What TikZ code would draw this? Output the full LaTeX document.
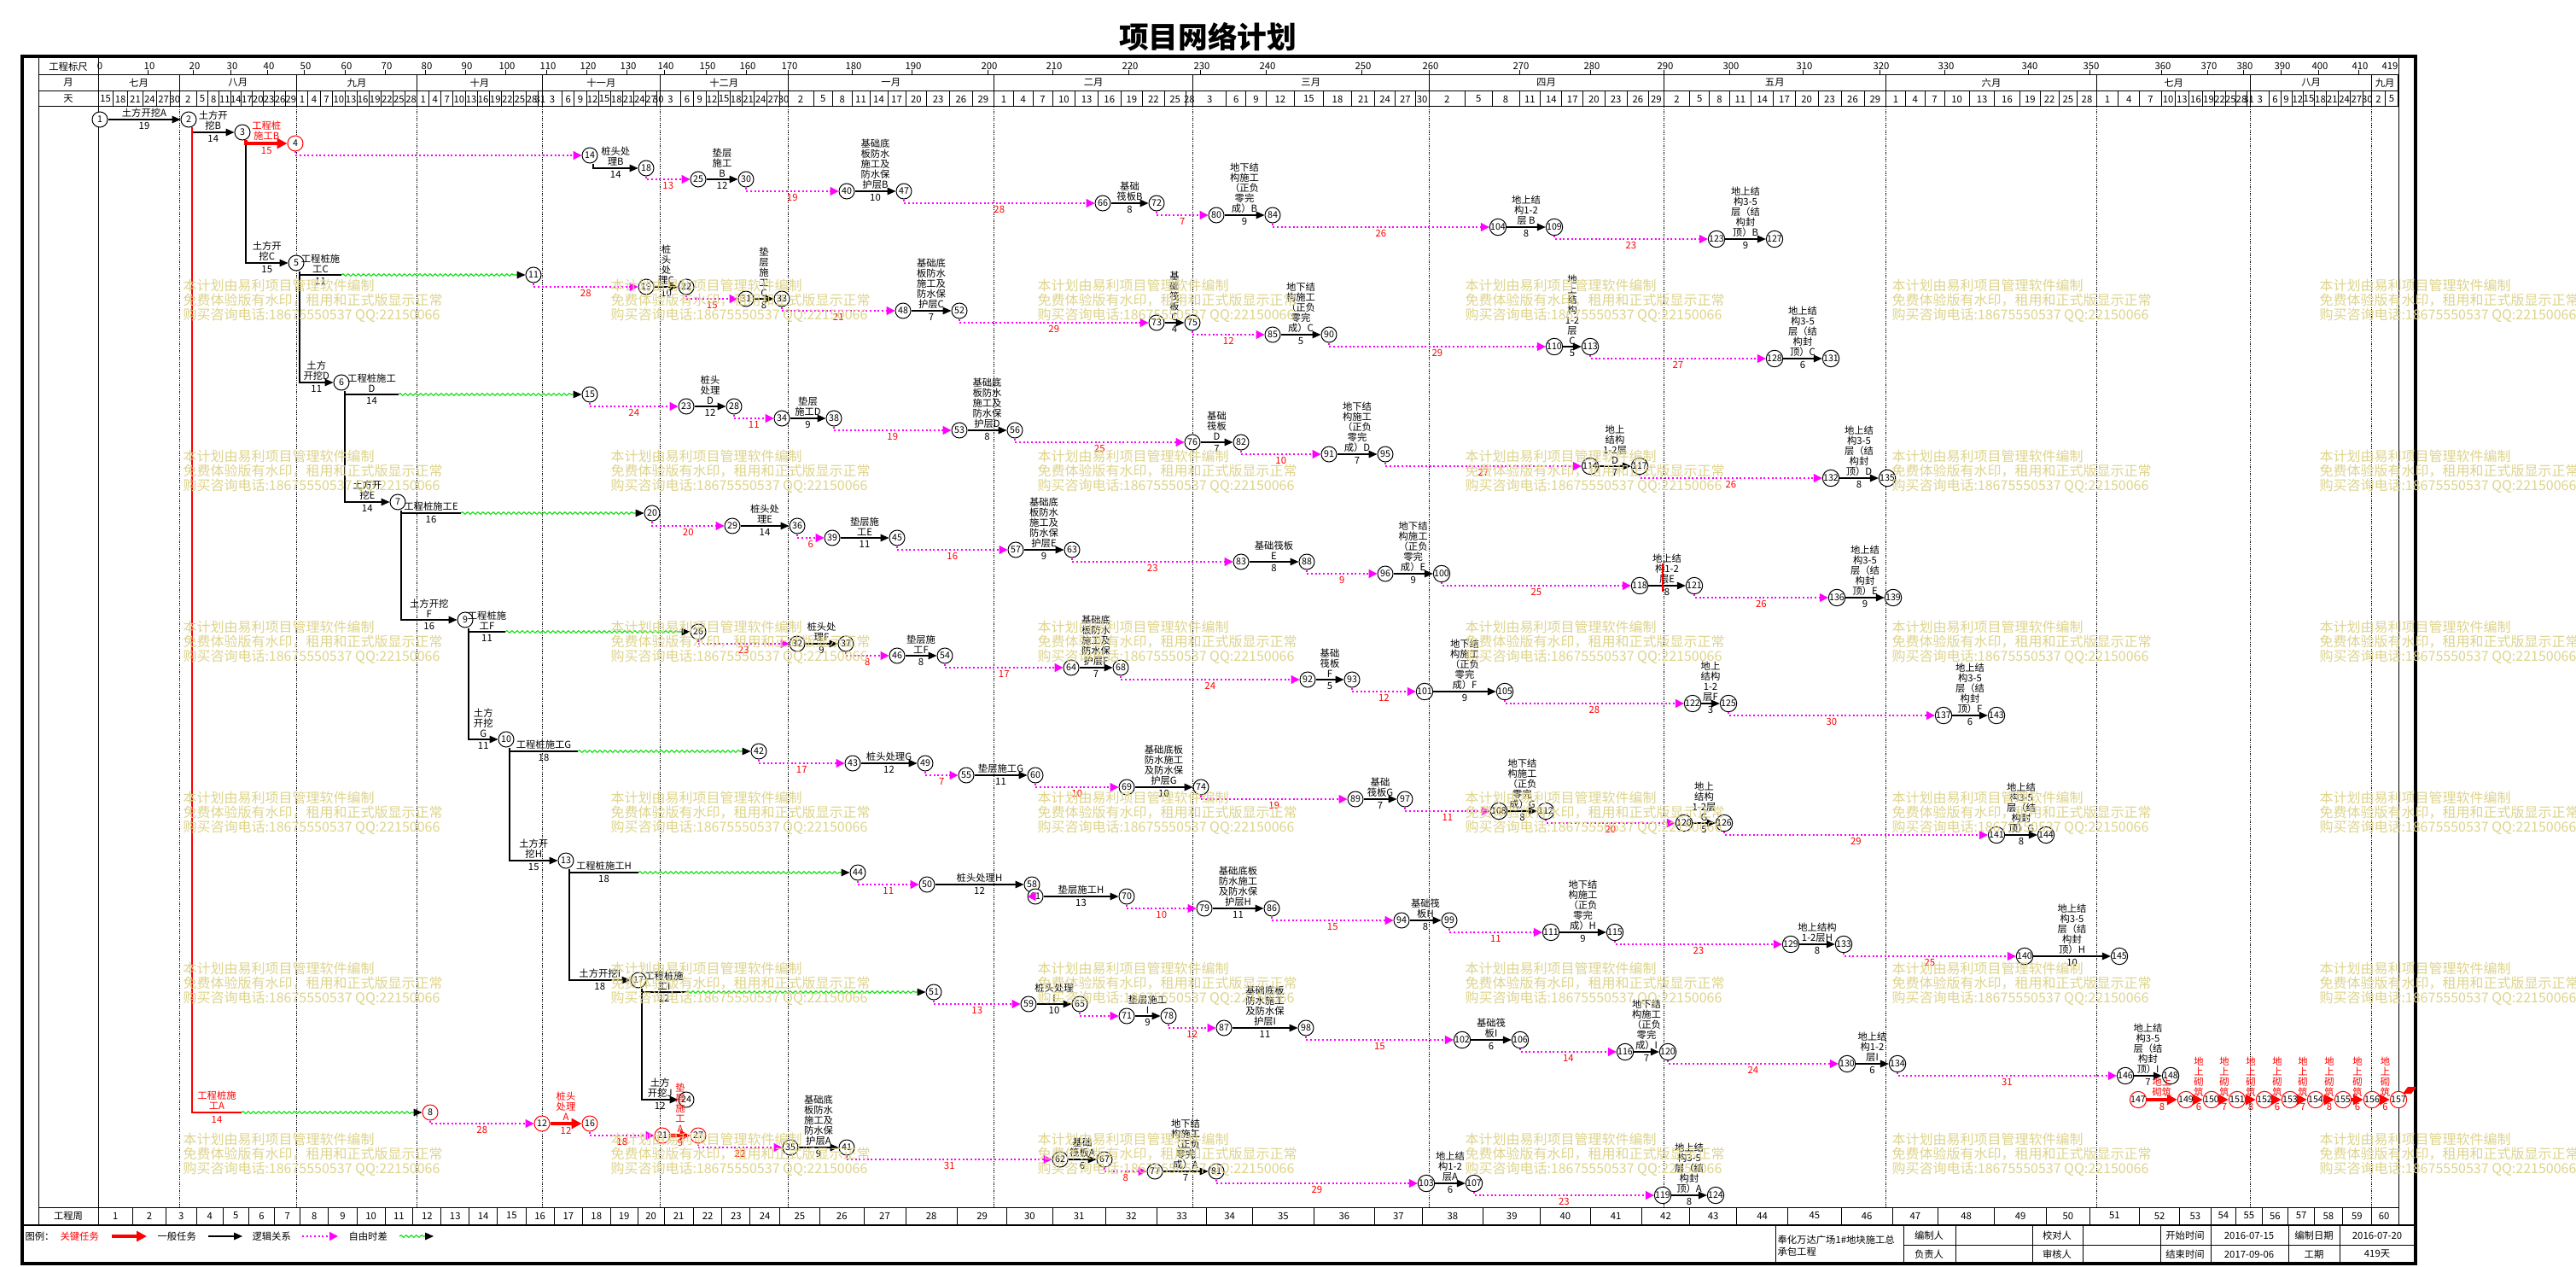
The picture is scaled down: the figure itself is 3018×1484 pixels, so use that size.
\documentclass[tikz,border=0pt]{standalone}
\usepackage{fontspec}
\setmainfont{Noto Sans CJK SC}
\usetikzlibrary{arrows.meta,decorations.pathmorphing}

\definecolor{lagpink}{RGB}{255,0,255}
\definecolor{floatgreen}{RGB}{0,225,0}
\definecolor{wmark}{RGB}{222,212,140}

% x position (px) of every 10th project day
\def\tk{{115,173,226,270,313,356,404,451,498,545,592,640,687,734,778,827,874,923,998,1068,1157,1233,1322,1406,1483,1595,1674,1780,1863,1949,2026,2112,2202,2278,2376,2448,2532,2586,2628,2672,2716,2763,2815}}
\pgfmathdeclarefunction{dx}{1}{%
  \begingroup
    \pgfmathtruncatemacro\dxi{min(#1/10,41)}%
    \pgfmathtruncatemacro\dxj{\dxi+1}%
    \pgfmathparse{\tk[\dxi]+(#1-10*\dxi)/10*(\tk[\dxj]-\tk[\dxi])}%
    \pgfmathsmuggle\pgfmathresult
  \endgroup}

\tikzset{every picture/.style={line width=0.75pt}}
\tikzset{
  nd/.style={circle,draw,fill=white,inner sep=0pt,minimum size=13.5pt,font=\fontsize{8}{8}\selectfont},
  ndk/.style={nd,draw=red},
  hd/.style={font=\fontsize{8.5}{9}\selectfont,inner sep=0pt},
  lbl/.style={font=\fontsize{8.5}{9}\selectfont,align=center,inner sep=1.5pt},
  dur/.style={font=\fontsize{8.5}{9}\selectfont,inner sep=2pt},
  fl/.style={dur,text=red},
  task/.style={draw=black,line width=0.8pt,-{Triangle[length=7.5pt,width=6.5pt]}},
  crit/.style={draw=red,line width=2.6pt,-{Triangle[length=9pt,width=9pt]}},
  critline/.style={draw=red,line width=2.2pt},
  lag/.style={draw=lagpink,line width=1pt,dash pattern=on 1.5pt off 2pt,-{Triangle[length=7.5pt,width=7.5pt,fill=lagpink]}},
  float/.style={draw=floatgreen,line width=0.8pt,decorate,decoration={snake,amplitude=1pt,segment length=4.5pt,post length=9pt},-{Triangle[length=7.5pt,width=6.5pt,color=black]}},
  wm/.style={text=wmark,font=\fontsize{12}{13}\selectfont,align=left,anchor=north west,inner sep=0pt},
}

\newcommand{\job}[4]{\draw[task] (#1) -- node[lbl,above]{#3} node[dur,below]{#4} (#2);}
\newcommand{\jobd}[4]{\draw[task] ([xshift=3pt]#1.south) |- node[lbl,above,pos=0.75]{#3} node[dur,below,pos=0.75]{#4} (#2);}
\newcommand{\keyjob}[4]{\draw[crit] (#1) -- node[lbl,above,text=red]{#3} node[dur,below,text=red]{#4} (#2);}
\newcommand{\keyjobd}[4]{\draw[crit] ([xshift=3pt]#1.south) |- node[lbl,above,pos=0.75,text=red]{#3} node[dur,below,pos=0.75,text=red]{#4} (#2);}
\newcommand{\lag}[3]{\draw[lag] (#1.south) |- node[fl,below,pos=0.75]{#3} (#2);}
\newcommand{\pile}[5]{\draw[task,-] ([xshift=3pt]#1.south) |- node[lbl,above,pos=0.75]{#4} node[dur,below,pos=0.75]{#5} (#3);\draw[float] (#3) -- (#2);}

\begin{document}
\begin{tikzpicture}[x=0.75pt,y=0.75pt,yscale=-1,xscale=1]
\useasboundingbox (0,0) rectangle (3018,1484);
\fill[white] (0,0) rectangle (3018,1484);

% Title
\node[font=\bfseries\fontsize{26}{26}\selectfont] (title) at (1415,43) {项目网络计划};

% Frame
\draw[line width=3pt] (26,66) rectangle (2830,1480);
\draw (45,66) -- (45,1435);
\draw (2810,66) -- (2810,1435);
\draw (115,66) -- (115,1435);
\foreach \y in {88,107,125,1414} \draw (45,\y) -- (2810,\y);
\draw[line width=1.5pt] (26,1435) -- (2830,1435);

% Header labels
\node[hd] at (80,78) {工程标尺};
\node[hd] at (80,97) {月};
\node[hd] at (80,116) {天};
\node[hd] at (80,1424) {工程周};

% scale row
\foreach \d in {0,10,...,410}{
  \pgfmathsetmacro{\xa}{dx(\d)}
  \draw (\xa,82) -- (\xa,88);
  \node[hd] at (\xa+2,77) {\d};
}
\node[hd] at (2800,77) {419};

% month row
\foreach \m/\a/\b in {七月/0/17,八月/17/48,九月/48/78,十月/78/109,十一月/109/139,十二月/139/170,一月/170/201,二月/201/229,三月/229/260,四月/260/290,五月/290/321,六月/321/351,七月/351/382,八月/382/413,九月/413/419}{
  \pgfmathsetmacro{\xa}{dx(\a)}
  \pgfmathsetmacro{\xb}{dx(\b)}
  \draw (\xb,88) -- (\xb,107);
  \node[hd] at ({(\xa+\xb)/2},97) {\m};
}
\foreach \a in {17,48,78,109,139,170,201,229,260,290,321,351,382,413}{
  \pgfmathsetmacro{\xa}{dx(\a)}
  \draw[line width=0.6pt,dash pattern=on 1pt off 1pt] (\xa,125) -- (\xa,1414);
}

% day row
\foreach \l/\a/\b in {15/0/3,18/3/6,21/6/9,24/9/12,27/12/15,30/15/17,
  2/17/21,5/21/24,8/24/27,11/27/30,14/30/33,17/33/36,20/36/39,23/39/42,26/42/45,29/45/48,
  1/48/51,4/51/54,7/54/57,10/57/60,13/60/63,16/63/66,19/66/69,22/69/72,25/72/75,28/75/78,
  1/78/81,4/81/84,7/84/87,10/87/90,13/90/93,16/93/96,19/96/99,22/99/102,25/102/105,28/105/108,31/108/109,
  3/109/114,6/114/117,9/117/120,12/120/123,15/123/126,18/126/129,21/129/132,24/132/135,27/135/138,30/138/139,
  3/139/144,6/144/147,9/147/150,12/150/153,15/153/156,18/156/159,21/159/162,24/162/165,27/165/168,30/168/170,
  2/170/174,5/174/177,8/177/180,11/180/183,14/183/186,17/186/189,20/189/192,23/192/195,26/195/198,29/198/201,
  1/201/204,4/204/207,7/207/210,10/210/213,13/213/216,16/216/219,19/219/222,22/222/225,25/225/228,28/228/229,
  3/229/234,6/234/237,9/237/240,12/240/243,15/243/246,18/246/249,21/249/252,24/252/255,27/255/258,30/258/260,
  2/260/264,5/264/267,8/267/270,11/270/273,14/273/276,17/276/279,20/279/282,23/282/285,26/285/288,29/288/290,
  2/290/294,5/294/297,8/297/300,11/300/303,14/303/306,17/306/309,20/309/312,23/312/315,26/315/318,29/318/321,
  1/321/324,4/324/327,7/327/330,10/330/333,13/333/336,16/336/339,19/339/342,22/342/345,25/345/348,28/348/351,
  1/351/354,4/354/357,7/357/360,10/360/363,13/363/366,16/366/369,19/369/372,22/372/375,25/375/378,28/378/381,31/381/382,
  3/382/387,6/387/390,9/390/393,12/393/396,15/396/399,18/399/402,21/402/405,24/405/408,27/408/411,30/411/413,
  2/413/416,5/416/419}{
  \pgfmathsetmacro{\xa}{dx(\a)}
  \pgfmathsetmacro{\xb}{dx(\b)}
  \draw (\xb,107) -- (\xb,125);
  \node[hd] at ({(\xa+\xb)/2},116) {\l};
}

% week row
\foreach \k in {1,...,59}{
  \pgfmathsetmacro{\xa}{dx(7*\k-7)}
  \pgfmathsetmacro{\xb}{dx(7*\k)}
  \draw (\xb,1414) -- (\xb,1435);
  \node[hd] at ({(\xa+\xb)/2},1424) {\k};
}
\node[hd] at (2793,1424) {60};

% ---------------- network nodes ----------------
% row B
\node[nd] (n1) at (117,140) {1};
\node[nd] (n2) at (221,140) {2};
\node[nd] (n3) at (284,155) {3};
\node[ndk] (n4) at (346,168) {4};
\node[nd] (n14) at (691,182) {14};
\node[nd] (n18) at (757,197) {18};
\node[nd] (n25) at (818,210) {25};
\node[nd] (n30) at (874,210) {30};
\node[nd] (n40) at (992,224) {40};
\node[nd] (n47) at (1059,224) {47};
\node[nd] (n66) at (1292,238) {66};
\node[nd] (n72) at (1355,238) {72};
\node[nd] (n80) at (1425,252) {80};
\node[nd] (n84) at (1491,252) {84};
\node[nd] (n104) at (1755,266) {104};
\node[nd] (n109) at (1821,266) {109};
\node[nd] (n123) at (2011,280) {123};
\node[nd] (n127) at (2079,280) {127};
% row C
\node[nd] (n5) at (347,308) {5};
\coordinate (k5) at (400,322);
\node[nd] (n11) at (625,322) {11};
\node[nd] (n19) at (757,336) {19};
\node[nd] (n22) at (804,336) {22};
\node[nd] (n31) at (874,350) {31};
\node[nd] (n33) at (916,350) {33};
\node[nd] (n48) at (1058,364) {48};
\node[nd] (n52) at (1124,364) {52};
\node[nd] (n73) at (1355,378) {73};
\node[nd] (n75) at (1397,378) {75};
\node[nd] (n85) at (1491,392) {85};
\node[nd] (n90) at (1557,392) {90};
\node[nd] (n110) at (1821,406) {110};
\node[nd] (n113) at (1863,406) {113};
\node[nd] (n128) at (2079,420) {128};
\node[nd] (n131) at (2145,420) {131};
% row D
\node[nd] (n6) at (400,448) {6};
\coordinate (k6) at (467,462);
\node[nd] (n15) at (691,462) {15};
\node[nd] (n23) at (804,476) {23};
\node[nd] (n28) at (860,476) {28};
\node[nd] (n34) at (916,490) {34};
\node[nd] (n38) at (977,490) {38};
\node[nd] (n53) at (1124,504) {53};
\node[nd] (n56) at (1189,504) {56};
\node[nd] (n76) at (1397,518) {76};
\node[nd] (n82) at (1454,518) {82};
\node[nd] (n91) at (1557,532) {91};
\node[nd] (n95) at (1623,532) {95};
\node[nd] (n114) at (1863,546) {114};
\node[nd] (n117) at (1921,546) {117};
\node[nd] (n132) at (2145,560) {132};
\node[nd] (n135) at (2211,560) {135};
% row E
\node[nd] (n7) at (466,588) {7};
\coordinate (k7) at (540,601);
\node[nd] (n20) at (764,601) {20};
\node[nd] (n29) at (858,616) {29};
\node[nd] (n36) at (934,616) {36};
\node[nd] (n39) at (975,630) {39};
\node[nd] (n45) at (1051,630) {45};
\node[nd] (n57) at (1190,644) {57};
\node[nd] (n63) at (1256,644) {63};
\node[nd] (n83) at (1454,658) {83};
\node[nd] (n88) at (1531,658) {88};
\node[nd] (n96) at (1623,672) {96};
\node[nd] (n100) at (1689,672) {100};
\node[nd] (n118) at (1921,686) {118};
\node[nd] (n121) at (1985,686) {121};
\node[nd] (n136) at (2152,700) {136};
\node[nd] (n139) at (2218,700) {139};
% row F
\node[nd] (n9) at (545,726) {9};
\coordinate (k9) at (592,740);
\node[nd] (n26) at (818,740) {26};
\node[nd] (n32) at (934,754) {32};
\node[nd] (n37) at (991,754) {37};
\node[nd] (n46) at (1051,768) {46};
\node[nd] (n54) at (1107,768) {54};
\node[nd] (n64) at (1255,782) {64};
\node[nd] (n68) at (1313,782) {68};
\node[nd] (n92) at (1532,796) {92};
\node[nd] (n93) at (1584,796) {93};
\node[nd] (n101) at (1669,810) {101};
\node[nd] (n105) at (1763,810) {105};
\node[nd] (n122) at (1983,824) {122};
\node[nd] (n125) at (2025,824) {125};
\node[nd] (n137) at (2277,838) {137};
\node[nd] (n143) at (2339,838) {143};
% row G
\node[nd] (n10) at (593,866) {10};
\coordinate (k10) at (677,880);
\node[nd] (n42) at (889,880) {42};
\node[nd] (n43) at (999,894) {43};
\node[nd] (n49) at (1084,894) {49};
\node[nd] (n55) at (1132,908) {55};
\node[nd] (n60) at (1213,908) {60};
\node[nd] (n69) at (1320,922) {69};
\node[nd] (n74) at (1407,922) {74};
\node[nd] (n89) at (1588,936) {89};
\node[nd] (n97) at (1646,936) {97};
\node[nd] (n108) at (1756,950) {108};
\node[nd] (n112) at (1811,950) {112};
\node[nd] (n120) at (1973,964) {120};
\node[nd] (n126) at (2020,964) {126};
\node[nd] (n141) at (2339,978) {141};
\node[nd] (n144) at (2397,978) {144};
% row H
\node[nd] (n13) at (663,1008) {13};
\coordinate (k13) at (748,1022);
\node[nd] (n44) at (1005,1022) {44};
\node[nd] (n50) at (1086,1036) {50};
\node[nd] (n58) at (1209,1036) {58};
\node[nd] (n61) at (1213,1050) {61};
\node[nd] (n70) at (1320,1050) {70};
\node[nd] (n79) at (1411,1064) {79};
\node[nd] (n86) at (1490,1064) {86};
\node[nd] (n94) at (1642,1078) {94};
\node[nd] (n99) at (1698,1078) {99};
\node[nd] (n111) at (1817,1092) {111};
\node[nd] (n115) at (1892,1092) {115};
\node[nd] (n129) at (2098,1106) {129};
\node[nd] (n133) at (2160,1106) {133};
\node[nd] (n140) at (2372,1120) {140};
\node[nd] (n145) at (2483,1120) {145};
% row I
\node[nd] (n17) at (748,1148) {17};
\coordinate (k17) at (804,1162);
\node[nd] (n51) at (1094,1162) {51};
\node[nd] (n59) at (1205,1176) {59};
\node[nd] (n65) at (1265,1176) {65};
\node[nd] (n71) at (1320,1190) {71};
\node[nd] (n78) at (1369,1190) {78};
\node[nd] (n87) at (1434,1204) {87};
\node[nd] (n98) at (1530,1204) {98};
\node[nd] (n102) at (1713,1218) {102};
\node[nd] (n106) at (1781,1218) {106};
\node[nd] (n116) at (1904,1232) {116};
\node[nd] (n120b) at (1954,1232) {120};
\node[nd] (n130) at (2164,1246) {130};
\node[nd] (n134) at (2223,1246) {134};
\node[nd] (n146) at (2490,1260) {146};
\node[nd] (n148) at (2543,1260) {148};
% row J
\node[nd] (n24) at (804,1288) {24};
% row A
\coordinate (k2) at (283,1303);
\node[ndk] (n8) at (504,1303) {8};
\node[ndk] (n12) at (635,1316) {12};
\node[ndk] (n16) at (691,1316) {16};
\node[ndk] (n21) at (776,1330) {21};
\node[ndk] (n27) at (818,1330) {27};
\node[nd] (n35) at (926,1344) {35};
\node[nd] (n41) at (992,1344) {41};
\node[nd] (n62) at (1242,1358) {62};
\node[nd] (n67) at (1294,1358) {67};
\node[nd] (n77) at (1353,1372) {77};
\node[nd] (n81) at (1425,1372) {81};
\node[nd] (n103) at (1671,1386) {103};
\node[nd] (n107) at (1727,1386) {107};
\node[nd] (n119) at (1948,1400) {119};
\node[nd] (n124) at (2010,1400) {124};
% final red chain
\node[ndk] (n147) at (2505,1288) {147};
\node[ndk] (n149) at (2561,1288) {149};
\node[ndk] (n150) at (2591,1288) {150};
\node[ndk] (n151) at (2621,1288) {151};
\node[ndk] (n152) at (2653,1288) {152};
\node[ndk] (n153) at (2683,1288) {153};
\node[ndk] (n154) at (2713,1288) {154};
\node[ndk] (n155) at (2745,1288) {155};
\node[ndk] (n156) at (2779,1288) {156};
\node[ndk] (n157) at (2810,1288) {157};

% ---------------- connections ----------------
% earthwork spine
\job{n1}{n2}{土方开挖A}{19}
\jobd{n2}{n3}{土方开\\挖B}{14}
\jobd{n3}{n5}{土方开\\挖C}{15}
\jobd{n5}{n6}{土方\\开挖D}{11}
\jobd{n6}{n7}{土方开\\挖E}{14}
\jobd{n7}{n9}{土方开挖\\F}{16}
\jobd{n9}{n10}{土方\\开挖\\G}{11}
\jobd{n10}{n13}{土方开\\挖H}{15}
\jobd{n13}{n17}{土方开挖I}{18}
\jobd{n17}{n24}{土方\\开挖J}{12}
% piles
\keyjobd{n3}{n4}{工程桩\\施工B}{15}
\pile{n5}{n11}{k5}{工程桩施\\工C}{11}
\pile{n6}{n15}{k6}{工程桩施工\\D}{14}
\pile{n7}{n20}{k7}{工程桩施工E}{16}
\pile{n9}{n26}{k9}{工程桩施\\工F}{11}
\pile{n10}{n42}{k10}{工程桩施工G}{18}
\pile{n13}{n44}{k13}{工程桩施工H}{18}
\pile{n17}{n51}{k17}{工程桩施\\工I}{12}
\draw[critline] ([xshift=3pt]n2.south) |- node[lbl,above,pos=0.75,text=red]{工程桩施\\工A} node[dur,below,pos=0.75,text=red]{14} (k2);
\draw[float] (k2) -- (n8);

% row B
\lag{n4}{n14}{}
\jobd{n14}{n18}{桩头处\\理B}{14}
\lag{n18}{n25}{13}
\job{n25}{n30}{垫层\\施工\\B}{12}
\lag{n30}{n40}{19}
\job{n40}{n47}{基础底\\板防水\\施工及\\防水保\\护层B}{10}
\lag{n47}{n66}{28}
\job{n66}{n72}{基础\\筏板B}{8}
\lag{n72}{n80}{7}
\job{n80}{n84}{地下结\\构施工\\（正负\\零完\\成）B}{9}
\lag{n84}{n104}{26}
\job{n104}{n109}{地上结\\构1-2\\层 B}{8}
\lag{n109}{n123}{23}
\job{n123}{n127}{地上结\\构3-5\\层（结\\构封\\顶）B}{9}
% row C
\lag{n11}{n19}{28}
\job{n19}{n22}{桩\\头\\处\\理C}{10}
\lag{n22}{n31}{15}
\job{n31}{n33}{垫\\层\\施\\工\\C}{8}
\lag{n33}{n48}{21}
\job{n48}{n52}{基础底\\板防水\\施工及\\防水保\\护层C}{7}
\lag{n52}{n73}{29}
\job{n73}{n75}{基\\础\\筏\\板\\C}{4}
\lag{n75}{n85}{12}
\job{n85}{n90}{地下结\\构施工\\（正负\\零完\\成）C}{5}
\lag{n90}{n110}{29}
\job{n110}{n113}{地\\上\\结\\构\\1-2\\层\\C}{5}
\lag{n113}{n128}{27}
\job{n128}{n131}{地上结\\构3-5\\层（结\\构封\\顶）C}{6}
% row D
\lag{n15}{n23}{24}
\job{n23}{n28}{桩头\\处理\\D}{12}
\lag{n28}{n34}{11}
\job{n34}{n38}{垫层\\施工D}{9}
\lag{n38}{n53}{19}
\job{n53}{n56}{基础底\\板防水\\施工及\\防水保\\护层D}{8}
\lag{n56}{n76}{25}
\job{n76}{n82}{基础\\筏板\\D}{7}
\lag{n82}{n91}{10}
\job{n91}{n95}{地下结\\构施工\\（正负\\零完\\成）D}{7}
\lag{n95}{n114}{27}
\job{n114}{n117}{地上\\结构\\1-2层\\D}{7}
\lag{n117}{n132}{26}
\job{n132}{n135}{地上结\\构3-5\\层（结\\构封\\顶）D}{8}
% row E
\lag{n20}{n29}{20}
\job{n29}{n36}{桩头处\\理E}{14}
\lag{n36}{n39}{6}
\job{n39}{n45}{垫层施\\工E}{11}
\lag{n45}{n57}{16}
\job{n57}{n63}{基础底\\板防水\\施工及\\防水保\\护层E}{9}
\lag{n63}{n83}{23}
\job{n83}{n88}{基础筏板\\E}{8}
\lag{n88}{n96}{9}
\job{n96}{n100}{地下结\\构施工\\（正负\\零完\\成）E}{9}
\lag{n100}{n118}{25}
\job{n118}{n121}{地上结\\构1-2\\层E}{8}
\lag{n121}{n136}{26}
\job{n136}{n139}{地上结\\构3-5\\层（结\\构封\\顶）E}{9}
\draw[red,line width=1pt] (1948,660) -- (1948,693);
% row F
\lag{n26}{n32}{23}
\job{n32}{n37}{桩头处\\理F}{9}
\lag{n37}{n46}{8}
\job{n46}{n54}{垫层施\\工F}{8}
\lag{n54}{n64}{17}
\job{n64}{n68}{基础底\\板防水\\施工及\\防水保\\护层F}{7}
\lag{n68}{n92}{24}
\job{n92}{n93}{基础\\筏板\\F}{5}
\lag{n93}{n101}{12}
\job{n101}{n105}{地下结\\构施工\\（正负\\零完\\成）F}{9}
\lag{n105}{n122}{28}
\job{n122}{n125}{地上\\结构\\1-2\\层F}{3}
\lag{n125}{n137}{30}
\job{n137}{n143}{地上结\\构3-5\\层（结\\构封\\顶）F}{6}
% row G
\lag{n42}{n43}{17}
\job{n43}{n49}{桩头处理G}{12}
\lag{n49}{n55}{7}
\job{n55}{n60}{垫层施工G}{11}
\lag{n60}{n69}{10}
\job{n69}{n74}{基础底板\\防水施工\\及防水保\\护层G}{10}
\lag{n74}{n89}{19}
\job{n89}{n97}{基础\\筏板G}{7}
\lag{n97}{n108}{11}
\job{n108}{n112}{地下结\\构施工\\（正负\\零完\\成）G}{8}
\lag{n112}{n120}{20}
\job{n120}{n126}{地上\\结构\\1-2层\\G}{5}
\lag{n126}{n141}{29}
\job{n141}{n144}{地上结\\构3-5\\层（结\\构封\\顶）G}{8}
% row H
\lag{n44}{n50}{11}
\job{n50}{n58}{桩头处理H}{12}
\lag{n58}{n61}{}
\job{n61}{n70}{垫层施工H}{13}
\lag{n70}{n79}{10}
\job{n79}{n86}{基础底板\\防水施工\\及防水保\\护层H}{11}
\lag{n86}{n94}{15}
\job{n94}{n99}{基础筏\\板H}{8}
\lag{n99}{n111}{11}
\job{n111}{n115}{地下结\\构施工\\（正负\\零完\\成）H}{9}
\lag{n115}{n129}{23}
\job{n129}{n133}{地上结构\\1-2层H}{8}
\lag{n133}{n140}{25}
\job{n140}{n145}{地上结\\构3-5\\层（结\\构封\\顶）H}{10}
% row I
\lag{n51}{n59}{13}
\job{n59}{n65}{桩头处理\\I}{10}
\lag{n65}{n71}{}
\job{n71}{n78}{垫层施工\\I}{9}
\lag{n78}{n87}{12}
\job{n87}{n98}{基础底板\\防水施工\\及防水保\\护层I}{11}
\lag{n98}{n102}{15}
\job{n102}{n106}{基础筏\\板I}{6}
\lag{n106}{n116}{14}
\job{n116}{n120b}{地下结\\构施工\\（正负\\零完\\成）I}{7}
\lag{n120b}{n130}{24}
\job{n130}{n134}{地上结\\构1-2\\层I}{6}
\lag{n134}{n146}{31}
\job{n146}{n148}{地上结\\构3-5\\层（结\\构封\\顶）I}{7}
% row A
\lag{n8}{n12}{28}
\keyjob{n12}{n16}{桩头\\处理\\A}{12}
\lag{n16}{n21}{18}
\keyjob{n21}{n27}{垫\\层\\施\\工\\A}{9}
\lag{n27}{n35}{22}
\job{n35}{n41}{基础底\\板防水\\施工及\\防水保\\护层A}{9}
\lag{n41}{n62}{31}
\job{n62}{n67}{基础\\筏板A}{6}
\lag{n67}{n77}{8}
\job{n77}{n81}{地下结\\构施工\\（正负\\零完\\成）A}{7}
\lag{n81}{n103}{29}
\job{n103}{n107}{地上结\\构1-2\\层A}{6}
\lag{n107}{n119}{23}
\job{n119}{n124}{地上结\\构3-5\\层（结\\构封\\顶）A}{8}
% masonry chain
\keyjob{n147}{n149}{地上\\砌筑}{8}
\keyjob{n149}{n150}{地\\上\\砌\\筑}{6}
\keyjob{n150}{n151}{地\\上\\砌\\筑}{7}
\keyjob{n151}{n152}{地\\上\\砌\\筑}{8}
\keyjob{n152}{n153}{地\\上\\砌\\筑}{6}
\keyjob{n153}{n154}{地\\上\\砌\\筑}{7}
\keyjob{n154}{n155}{地\\上\\砌\\筑}{8}
\keyjob{n155}{n156}{地\\上\\砌\\筑}{6}
\keyjob{n156}{n157}{地\\上\\砌\\筑}{6}
\fill[red] (2815,1281) -- (2821,1273) -- (2831,1273) -- (2825,1281) -- cycle;

% ---------------- legend ----------------
\node[hd,anchor=west] (lgd) at (29,1448) {图例：};
\node[hd,anchor=west,text=red] (lg1) at (70,1448) {关键任务};
\draw[crit] (131,1448) -- (172,1448);
\node[hd,anchor=west] (lg2) at (184,1448) {一般任务};
\draw[task] (244,1448) -- (284,1448);
\node[hd,anchor=west] (lg3) at (295,1448) {逻辑关系};
\draw[lag] (354,1448) -- (396,1448);
\node[hd,anchor=west] (lg4) at (408,1448) {自由时差};
\draw[float] (468,1448) -- (508,1448);

% ---------------- info table ----------------
\foreach \x in {2080,2230,2291,2381,2440,2531,2590,2681,2741} \draw (\x,1435) -- (\x,1480);
\draw (2230,1458) -- (2830,1458);
\node[hd,anchor=west] at (2082,1452) {奉化万达广场1\#地块施工总};
\node[hd,anchor=west] at (2082,1466) {承包工程};
\node[hd] at (2260,1447) {编制人};
\node[hd] at (2260,1469) {负责人};
\node[hd] at (2410,1447) {校对人};
\node[hd] at (2410,1469) {审核人};
\node[hd] at (2560,1447) {开始时间};
\node[hd] at (2560,1469) {结束时间};
\node[hd] at (2635,1447) {2016-07-15};
\node[hd] at (2635,1469) {2017-09-06};
\node[hd] at (2711,1447) {编制日期};
\node[hd] at (2711,1469) {工期};
\node[hd] at (2785,1447) {2016-07-20};
\node[hd] at (2785,1469) {419天};

% ---------------- watermark ----------------
\foreach \x in {214,715,1215,1716,2216,2717}
  \foreach \y in {326,526,726,926,1126,1326}
    \node[wm] at (\x,\y) {本计划由易利项目管理软件编制\\免费体验版有水印，租用和正式版显示正常\\购买咨询电话:18675550537 QQ:22150066};

\end{tikzpicture}
\end{document}
